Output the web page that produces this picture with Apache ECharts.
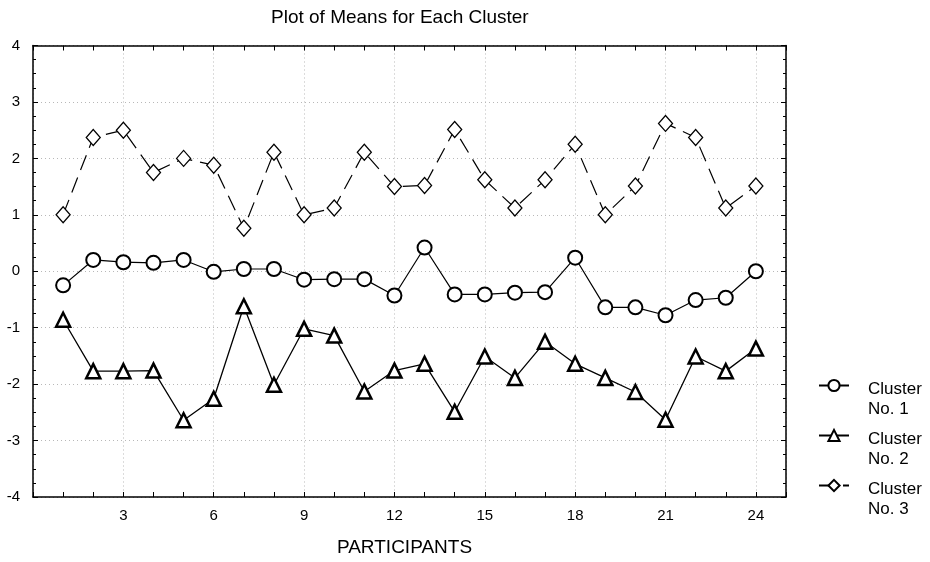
<!DOCTYPE html>
<html>
<head>
<meta charset="utf-8">
<script src="https://cdn.jsdelivr.net/npm/echarts@6/dist/echarts.min.js"></script>
<style>html,body{margin:0;padding:0;background:#fff}#c{width:930px;height:562px}</style>
</head>
<body>
<div id="c"></div>
<script>
const participants = [1,2,3,4,5,6,7,8,9,10,11,12,13,14,15,16,17,18,19,20,21,22,23,24];
const cluster1 = [-0.25,0.20,0.16,0.15,0.20,-0.01,0.04,0.04,-0.15,-0.14,-0.14,-0.43,0.42,-0.41,-0.41,-0.38,-0.37,0.24,-0.64,-0.64,-0.78,-0.51,-0.47,0.00];
const cluster2 = [-0.86,-1.77,-1.77,-1.76,-2.64,-2.26,-0.62,-2.01,-1.02,-1.14,-2.13,-1.76,-1.64,-2.49,-1.51,-1.89,-1.25,-1.64,-1.89,-2.14,-2.63,-1.51,-1.77,-1.37];
const cluster3 = [1.00,2.37,2.50,1.75,2.00,1.88,0.76,2.11,1.00,1.12,2.11,1.50,1.52,2.51,1.62,1.12,1.62,2.25,1.00,1.51,2.62,2.37,1.12,1.51];
const seriesNames = ['Cluster\nNo. 1','Cluster\nNo. 2','Cluster\nNo. 3'];

const FONT = 'Arial, "Liberation Sans", sans-serif';
const pairs = arr => participants.map((p,i)=>[p, arr[i]]);
const chart = echarts.init(document.getElementById('c'), null, {renderer:'canvas'});

const gridLine = {show:true, lineStyle:{color:'#b8b8b8', type:[1,3], width:1}};
const xBase = {type:'value', min:0, max:25, interval:3,
  axisLine:{show:true, onZero:false, lineStyle:{color:'#000', width:1.5}},
  axisTick:{show:true, inside:true, length:5, lineStyle:{color:'#000'}},
  minorTick:{show:true, splitNumber:3, length:5, lineStyle:{color:'#000'}}};
const yBase = {type:'value', min:-4, max:4, interval:1,
  axisLine:{show:true, onZero:false, lineStyle:{color:'#000', width:1.5}},
  axisTick:{show:true, inside:true, length:5, lineStyle:{color:'#000'}},
  minorTick:{show:true, splitNumber:4, length:3, lineStyle:{color:'#000'}}};

function legendAt(name, top){
  return {data:[name], orient:'vertical', left:818, top:top, padding:0,
    itemWidth:30, itemHeight:14, selectedMode:false,
    formatter: n => '{g| }\n{t|' + n.split('\n').join('}\n{t|') + '}',
    textStyle:{fontFamily:FONT, fontSize:17, color:'#000', padding:[0,0,0,14],
      rich:{g:{fontSize:17, lineHeight:28, fontFamily:FONT}, t:{fontSize:17, lineHeight:20, fontFamily:FONT, color:'#000'}}}};
}

chart.setOption({
  animation:false,
  backgroundColor:'#fff',
  title:{text:'Plot of Means for Each Cluster', left:271, top:8, padding:0,
    textStyle:{fontFamily:FONT, fontSize:19, fontWeight:'normal', color:'#000'}},
  legend:[legendAt(seriesNames[0],357), legendAt(seriesNames[1],407), legendAt(seriesNames[2],457)],
  grid:{left:33, right:144, top:45.5, bottom:64.5, containLabel:false},
  xAxis:[
    Object.assign({}, xBase, {position:'bottom', name:'PARTICIPANTS', nameLocation:'middle', nameGap:41,
      nameTextStyle:{fontFamily:FONT, fontSize:19, color:'#000', padding:[0,10,0,0]},
      axisLabel:{showMinLabel:false, showMaxLabel:false, margin:11, fontFamily:FONT, fontSize:15, color:'#000'},
      splitLine:gridLine}),
    Object.assign({}, xBase, {position:'top', axisLabel:{show:false}, splitLine:{show:false}})
  ],
  yAxis:[
    Object.assign({}, yBase, {position:'left',
      axisLabel:{margin:13, fontFamily:FONT, fontSize:15, color:'#000'},
      splitLine:gridLine}),
    Object.assign({}, yBase, {position:'right', axisLabel:{show:false}, splitLine:{show:false}})
  ],
  series:[
    {name:seriesNames[0], type:'line', data:pairs(cluster1), symbol:'circle', symbolSize:14,
      lineStyle:{color:'#000', width:1.2}, itemStyle:{color:'#fff', borderColor:'#000', borderWidth:2}, z:3},
    {name:seriesNames[1], type:'line', data:pairs(cluster2), symbol:'triangle', symbolSize:14,
      lineStyle:{color:'#000', width:1.3}, itemStyle:{color:'#fff', borderColor:'#000', borderWidth:2.5}, z:2},
    {name:seriesNames[2], type:'line', data:pairs(cluster3), symbol:'diamond', symbolSize:[14,16],
      lineStyle:{color:'#000', width:1.2, type:[16,8]}, itemStyle:{color:'#fff', borderColor:'#000', borderWidth:1.3}, z:2}
  ]
});
</script>
</body>
</html>
